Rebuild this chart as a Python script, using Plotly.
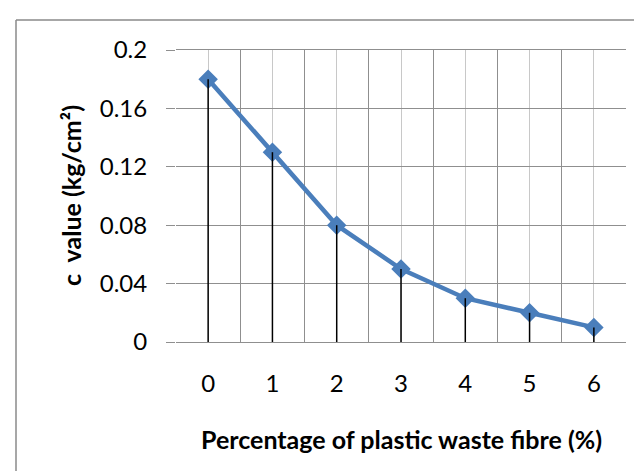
import plotly.graph_objects as go

fibre_pct = [0, 1, 2, 3, 4, 5, 6]
c_value = [0.18, 0.13, 0.08, 0.05, 0.03, 0.02, 0.01]
y_tickvals = [0, 0.04, 0.08, 0.12, 0.16, 0.2]
y_ticktext = ["0", "0.04", "0.08", "0.12", "0.16", "0.2"]
x_title = "Percentage of plastic waste fibre (%)"
y_title = "c  value (kg/cm²)"

FONT = "Lato, Calibri, Carlito, sans-serif"
W, H = 642, 471
L, R, T, B = 168, 24, 42, 137
pw, ph = W - L - R, H - T - B

def px(x):
    return (x - L) / pw

def py(y):
    return (H - B - y) / ph

fig = go.Figure()
fig.add_trace(go.Scatter(
    x=fibre_pct, y=c_value, mode="lines+markers",
    line=dict(color="#4a7ebb", width=4.5),
    marker=dict(symbol="diamond", size=15, color="#4a7ebb"),
    showlegend=False, hoverinfo="x+y",
))
# drop lines from each point to zero
dx, dy = [], []
for xv, yv in zip(fibre_pct, c_value):
    dx += [xv, xv, None]
    dy += [0, yv, None]
fig.add_trace(go.Scatter(
    x=dx, y=dy, mode="lines", line=dict(color="black", width=1.5),
    showlegend=False, hoverinfo="skip",
))

fig.update_layout(
    width=W, height=H,
    margin=dict(l=L, r=R, t=T, b=B),
    paper_bgcolor="white", plot_bgcolor="white",
    font=dict(family=FONT, size=24, color="black"),
    xaxis=dict(
        range=[-0.5, 6.5], tickvals=fibre_pct, ticktext=[str(v) for v in fibre_pct],
        showgrid=True, gridcolor="#c8c8c8", gridwidth=1.3,
        minor=dict(tick0=0.5, dtick=1, showgrid=True, gridcolor="#8f8f8f", gridwidth=1.3),
        ticks="", zeroline=False, showline=True, linecolor="#8f8f8f", linewidth=1.3,
        mirror=True, ticklabelstandoff=20,
    ),
    yaxis=dict(
        range=[0, 0.2], tickvals=y_tickvals, ticktext=y_ticktext,
        showgrid=True, gridcolor="#8f8f8f", gridwidth=1.3,
        ticks="outside", ticklen=9, tickcolor="#8f8f8f", tickwidth=1.3,
        zeroline=False, showline=False, ticklabelstandoff=14,
    ),
    shapes=[
        dict(type="line", xref="paper", yref="paper", x0=px(8), x1=px(700), y0=py(12), y1=py(12),
             line=dict(color="#8a8a8a", width=1.5)),
        dict(type="line", xref="paper", yref="paper", x0=px(8), x1=px(8), y0=py(12), y1=py(500),
             line=dict(color="#8a8a8a", width=1.5)),
    ],
    annotations=[
        dict(text="<b>%s</b>" % x_title, xref="paper", yref="paper", x=px(393), y=py(431),
             xanchor="center", yanchor="middle", showarrow=False, font=dict(size=25)),
        dict(text="<b>%s</b>" % y_title, xref="paper", yref="paper", x=px(63), y=py(188),
             xanchor="center", yanchor="middle", showarrow=False, textangle=-90, font=dict(size=25)),
    ],
)

fig.write_html("out.html")
